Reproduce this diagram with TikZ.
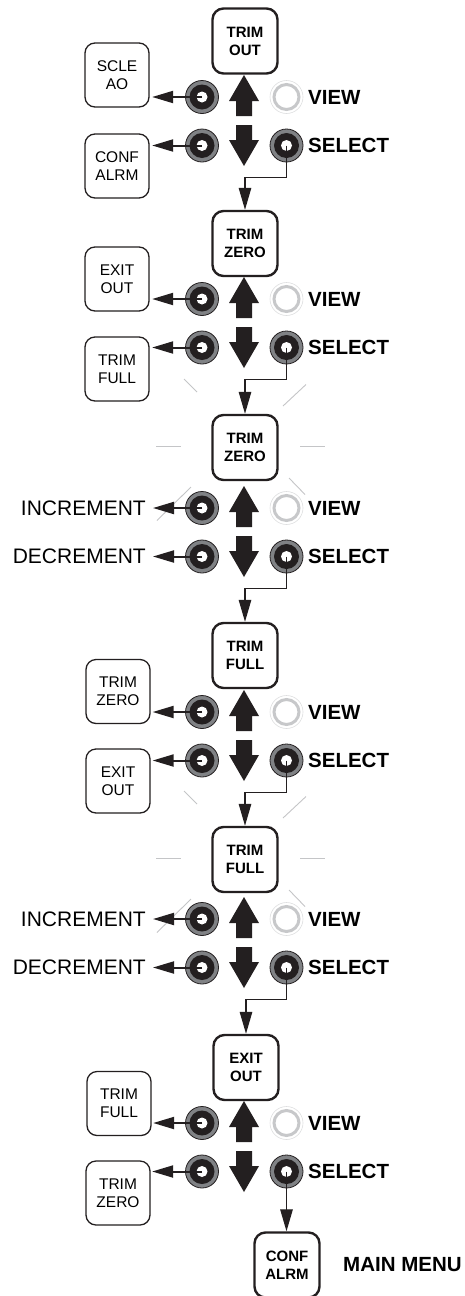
\documentclass[tikz,border=0pt]{standalone}
\usepackage{fontspec}
\setmainfont{Liberation Sans}
\usetikzlibrary{positioning, arrows.meta, calc}

\definecolor{keyblack}{HTML}{231F20}
\definecolor{ringgray}{HTML}{808285}
\definecolor{viewgray}{HTML}{C7C8CA}
\definecolor{raygray}{HTML}{C4C5C7}

\begin{document}
\begin{tikzpicture}[x=1pt, y=-1pt,
    menubox/.style={draw=keyblack, line width=2.4pt, rounded corners=11pt, fill=white,
        minimum width=65pt, minimum height=65pt, inner sep=0pt, align=center,
        font=\fontsize{15}{18}\selectfont\bfseries},
    sidebox/.style={draw=keyblack, line width=1.3pt, rounded corners=10pt, fill=white,
        minimum width=64pt, minimum height=64pt, inner sep=0pt, align=center,
        font=\fontsize{15.5}{18}\selectfont},
    keybutton/.style={circle, draw=keyblack, line width=0.8pt, fill=ringgray,
        minimum size=33pt, inner sep=0pt,
        path picture={\fill[keyblack] (path picture bounding box.center) circle (12.5pt);
                      \fill[white] (path picture bounding box.center) circle (5.5pt);}},
    viewbutton/.style={circle, draw=viewgray!60, line width=0.6pt, fill=white,
        minimum size=33pt, inner sep=0pt,
        path picture={\draw[viewgray, line width=3pt] (path picture bounding box.center) circle (12.5pt);}},
    keylabel/.style={anchor=west, inner sep=0pt, font=\fontsize{20.5}{24}\selectfont\bfseries},
    steplabel/.style={anchor=east, inner sep=0pt, font=\fontsize{21}{24}\selectfont},
    sidearrow/.style={keyblack, line width=2pt, -{Triangle[length=21pt, width=12pt]}, shorten >=#1},
    sidearrow/.default=2.5pt,
    nextarrow/.style={keyblack, line width=1.3pt, -{Triangle[length=22pt, width=12.5pt]}},
    ray/.style={raygray, line width=0.9pt}
]
    \useasboundingbox (0,0) rectangle (465,1296);

    % Menu steps
    \node[menubox] (m1) at (245,41) {TRIM\\OUT};
    \node[menubox] (m2) at (245,243.5) {TRIM\\ZERO};
    \node[menubox] (m3) at (245,447.5) {TRIM\\ZERO};
    \node[menubox] (m4) at (245,655.5) {TRIM\\FULL};
    \node[menubox] (m5) at (245,859.5) {TRIM\\FULL};
    \node[menubox] (m6) at (246,1067.5) {EXIT\\OUT};
    \node[menubox] (m7) at (287,1265) {CONF\\ALRM};
    \node[keylabel] (mainmenu) at (343,1265) {MAIN MENU};

    % Flashing display
    \foreach \b in {3,5} {
        \foreach \ax/\ay/\bx/\by in {-89/-1.5/-64/-1.5, 55/-1.5/80/-1.5,
                -61/-68.5/-48/-55.5, 61/-63/38/-41.5, -88/73/-54/39.5, 44/30.5/60/47} {
            \draw[ray] ($(m\b.center)+(\ax,\ay)$) -- ($(m\b.center)+(\bx,\by)$);
        }
    }

    % Keys of each step
    \foreach \i/\y in {1/97, 2/299, 3/508, 4/712, 5/919, 6/1123} {
        \node[keybutton] (ul\i) at (202,\y) {};
        \node[keybutton] (ll\i) at (202,\y+48.5) {};
        \node[viewbutton] (vw\i) at (286.5,\y) {};
        \node[keybutton] (sl\i) at (286.5,\y+48.5) {};
        \node[keylabel] (vt\i) at (308,\y) {VIEW};
        \node[keylabel] (st\i) at (308,\y+48.5) {SELECT};
        % up and down keys
        \coordinate (ua\i) at (244,\y);
        \coordinate (da\i) at (244,\y+48.5);
        \fill[keyblack] (ua\i) ++(0,-22) -- ++(15,26) -- ++(-7,0) -- ++(0,15)
            -- ++(-16,0) -- ++(0,-15) -- ++(-7,0) -- cycle;
        \fill[keyblack] (da\i) ++(0,20.5) -- ++(15,-26) -- ++(-7,0) -- ++(0,-15)
            -- ++(-16,0) -- ++(0,15) -- ++(-7,0) -- cycle;
    }

    % Where the left keys lead
    \node[sidebox] (su1) at (117,75) {SCLE\\AO};
    \node[sidebox] (sd1) at (117,166) {CONF\\ALRM};
    \node[sidebox] (su2) at (117,279) {EXIT\\OUT};
    \node[sidebox] (sd2) at (117,369) {TRIM\\FULL};
    \node[steplabel] (su3) at (146,508) {INCREMENT};
    \node[steplabel] (sd3) at (146,556.5) {DECREMENT};
    \node[sidebox] (su4) at (118,691.5) {TRIM\\ZERO};
    \node[sidebox] (sd4) at (118,781) {EXIT\\OUT};
    \node[steplabel] (su5) at (146,919) {INCREMENT};
    \node[steplabel] (sd5) at (146,967.5) {DECREMENT};
    \node[sidebox] (su6) at (119,1103.5) {TRIM\\FULL};
    \node[sidebox] (sd6) at (118,1193) {TRIM\\ZERO};

    \foreach \i/\gap in {1/2.5pt, 2/2.5pt, 3/7pt, 4/2pt, 5/7pt, 6/1.5pt} {
        \draw[sidearrow=\gap] (ul\i.center) -- (ul\i.center -| su\i.east);
        \draw[sidearrow=\gap] (ll\i.center) -- (ll\i.center -| sd\i.east);
    }

    % SELECT goes on to the next step
    \foreach \i/\j in {1/2, 2/3, 3/4, 4/5, 5/6} {
        \draw[nextarrow] (sl\i.center) -- ++(0,32) -| (m\j.north);
    }
    \draw[nextarrow] (sl6.center) -- (sl6.center |- m7.north);
\end{tikzpicture}
\end{document}
